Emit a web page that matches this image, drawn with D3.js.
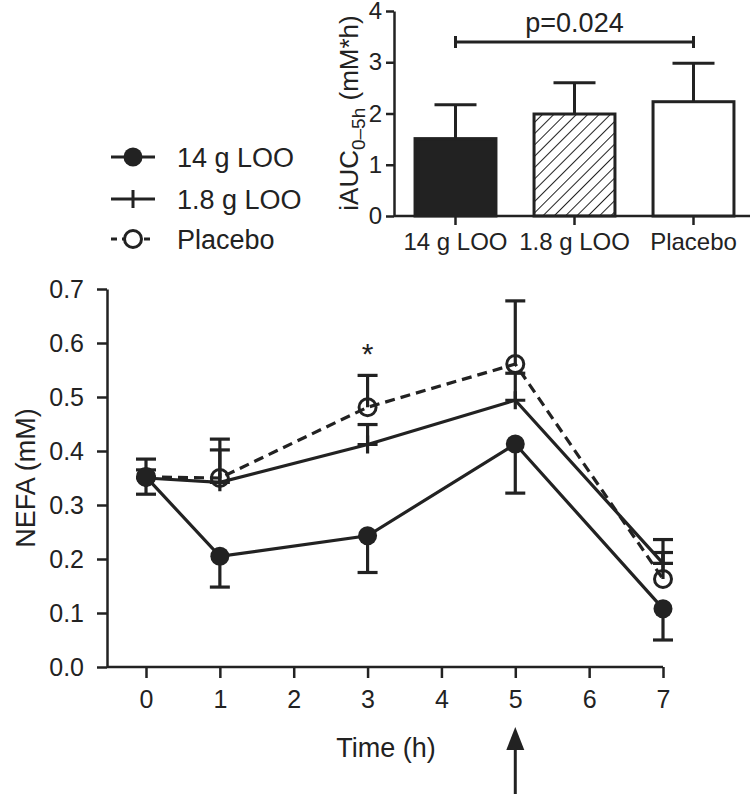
<!DOCTYPE html>
<html>
<head>
<meta charset="utf-8">
<script src="https://cdn.jsdelivr.net/npm/d3@7"></script>
<style>
  body { margin: 0; background: #fff; }
  text { font-family: "Liberation Sans", Arial, sans-serif; fill: #222; }
</style>
</head>
<body>
<div id="chart"></div>
<script>
// line chart data
var times = [0, 1, 3, 5, 7]
var loo14 = [0.352, 0.205, 0.243, 0.413, 0.108]
var loo14Err = [0.032, 0.057, 0.068, 0.091, 0.058]
var loo18 = [0.350, 0.342, 0.412, 0.494, 0.192]
var loo18Err = [0.015, 0.060, 0.037, 0.050, 0.020]
var placebo = [0.352, 0.350, 0.481, 0.561, 0.163]
var placeboErr = [0.033, 0.072, 0.059, 0.117, 0.073]
var xTicks = [0, 1, 2, 3, 4, 5, 6, 7]
var yTicks = [0, 0.1, 0.2, 0.3, 0.4, 0.5, 0.6, 0.7]

// bar chart data
var barGroups = ["14 g LOO", "1.8 g LOO", "Placebo"]
var barValues = [1.51, 1.99, 2.23]
var barErr = [0.66, 0.61, 0.75]
var barTicks = [0, 1, 2, 3, 4]

var w = 754, h = 794
var ink = "#222"

var svg = d3.select("#chart").append("svg")
    .attr("width", w)
    .attr("height", h)

var defs = svg.append("defs")
var hatch = defs.append("pattern")
    .attr("id", "hatch")
    .attr("patternUnits", "userSpaceOnUse")
    .attr("width", 8)
    .attr("height", 8)
    .attr("patternTransform", "rotate(45)")
hatch.append("line")
    .attr("x1", 0).attr("y1", 0).attr("x2", 0).attr("y2", 8)
    .attr("stroke", ink).attr("stroke-width", 2)

// ---------- main line chart ----------
var xScale = d3.scaleLinear().domain([0, 7]).range([146, 663])
var yScale = d3.scaleLinear().domain([0, 0.7]).range([667, 289])
var axisX0 = 107

var yAxis = d3.axisLeft(yScale)
    .tickValues(yTicks)
    .tickFormat(d3.format(".1f"))
    .tickSize(10)
    .tickSizeOuter(0)
    .tickPadding(13)
svg.append("g")
    .attr("class", "yAxis")
    .attr("transform", `translate (${axisX0}, 0)`)
    .call(yAxis)

var xAxis = d3.axisBottom(xScale)
    .tickValues(xTicks)
    .tickFormat(d3.format("d"))
    .tickSize(11)
    .tickSizeOuter(0)
    .tickPadding(12)
var gx = svg.append("g")
    .attr("class", "xAxis")
    .attr("transform", `translate (0, ${yScale(0)})`)
    .call(xAxis)
gx.select(".domain").remove()
gx.append("line")
    .attr("x1", axisX0).attr("x2", xScale(7))
    .attr("y1", 0).attr("y2", 0)
    .attr("stroke", ink).attr("stroke-width", 2.5)

svg.selectAll(".yAxis path, .yAxis line, .xAxis line")
    .attr("stroke", ink).attr("stroke-width", 2.5)
svg.selectAll(".yAxis text, .xAxis text")
    .style("font-size", "25px").attr("fill", ink)

svg.append("text")
    .attr("transform", "rotate(-90)")
    .attr("x", -478)
    .attr("y", 35)
    .style("text-anchor", "middle")
    .style("font-size", "27px")
    .text("NEFA (mM)")

svg.append("text")
    .attr("x", 386)
    .attr("y", 757)
    .style("text-anchor", "middle")
    .style("font-size", "27px")
    .text("Time (h)")

// arrow at the 5 h meal
var ax = xScale(5)
svg.append("line")
    .attr("x1", ax).attr("x2", ax)
    .attr("y1", 745).attr("y2", 794)
    .attr("stroke", ink).attr("stroke-width", 3)
svg.append("path")
    .attr("d", `M${ax},727 L${ax - 9},750 L${ax + 9},750 Z`)
    .attr("fill", ink)

var line = d3.line()
    .x((d, i) => xScale(times[i]))
    .y(d => yScale(d))

function errorBars(vals, errs, dir) {
  var g = svg.append("g")
  vals.forEach(function(v, i) {
    var cx = xScale(times[i])
    var end = v + dir * errs[i]
    g.append("line")
        .attr("x1", cx).attr("x2", cx)
        .attr("y1", yScale(v)).attr("y2", yScale(end))
        .attr("stroke", ink).attr("stroke-width", 3.2)
    g.append("line")
        .attr("x1", cx - 10).attr("x2", cx + 10)
        .attr("y1", yScale(end)).attr("y2", yScale(end))
        .attr("stroke", ink).attr("stroke-width", 3.2)
  })
}

// placebo
errorBars(placebo, placeboErr, 1)
svg.append("path")
    .datum(placebo)
    .attr("d", line)
    .attr("fill", "none")
    .attr("stroke", ink)
    .attr("stroke-width", 3.2)
    .attr("stroke-dasharray", "10,6")
svg.append("g").selectAll("circle")
    .data(placebo)
  .enter().append("circle")
    .attr("cx", (d, i) => xScale(times[i]))
    .attr("cy", d => yScale(d))
    .attr("r", 8.5)
    .attr("fill", "none")
    .attr("stroke", ink)
    .attr("stroke-width", 3)

// 1.8 g LOO
errorBars(loo18, loo18Err, 1)
svg.append("path")
    .datum(loo18)
    .attr("d", line)
    .attr("fill", "none")
    .attr("stroke", ink)
    .attr("stroke-width", 3.2)
svg.append("g").selectAll("path")
    .data(loo18)
  .enter().append("path")
    .attr("d", (d, i) => {
      var cx = xScale(times[i]), cy = yScale(d)
      return `M${cx - 10},${cy}H${cx + 10}M${cx},${cy - 9}V${cy + 9}`
    })
    .attr("stroke", ink)
    .attr("stroke-width", 3.2)

// 14 g LOO
errorBars(loo14, loo14Err, -1)
svg.append("path")
    .datum(loo14)
    .attr("d", line)
    .attr("fill", "none")
    .attr("stroke", ink)
    .attr("stroke-width", 3.2)
svg.append("g").selectAll("circle")
    .data(loo14)
  .enter().append("circle")
    .attr("cx", (d, i) => xScale(times[i]))
    .attr("cy", d => yScale(d))
    .attr("r", 9.5)
    .attr("fill", ink)

svg.append("text")
    .attr("x", xScale(3))
    .attr("y", 364)
    .style("text-anchor", "middle")
    .style("font-size", "30px")
    .text("*")

// legend
var legendY = [157, 199, 239]
var lg = svg.append("g")
lg.append("line").attr("x1", 111).attr("x2", 155).attr("y1", legendY[0]).attr("y2", legendY[0])
    .attr("stroke", ink).attr("stroke-width", 3)
lg.append("circle").attr("cx", 133).attr("cy", legendY[0]).attr("r", 9.5).attr("fill", ink)
lg.append("line").attr("x1", 111).attr("x2", 155).attr("y1", legendY[1]).attr("y2", legendY[1])
    .attr("stroke", ink).attr("stroke-width", 3)
lg.append("line").attr("x1", 133).attr("x2", 133).attr("y1", legendY[1] - 9).attr("y2", legendY[1] + 9)
    .attr("stroke", ink).attr("stroke-width", 3)
lg.append("line").attr("x1", 111).attr("x2", 155).attr("y1", legendY[2]).attr("y2", legendY[2])
    .attr("stroke", ink).attr("stroke-width", 3).attr("stroke-dasharray", "6,5")
lg.append("circle").attr("cx", 133).attr("cy", legendY[2]).attr("r", 8.5)
    .attr("fill", "#fff").attr("stroke", ink).attr("stroke-width", 3)
lg.selectAll("text")
    .data(barGroups)
  .enter().append("text")
    .attr("x", 177)
    .attr("y", (d, i) => legendY[i])
    .attr("dy", "0.36em")
    .style("font-size", "27px")
    .text(d => d)

// ---------- bar chart (inset) ----------
var bx = d3.scaleBand()
    .domain(barGroups)
    .range([396, 753])
    .paddingInner(0.32)
    .paddingOuter(0.16)
var by = d3.scaleLinear().domain([0, 4]).range([216, 11])
var bAxisX0 = 394

var byAxis = d3.axisLeft(by)
    .tickValues(barTicks)
    .tickFormat(d3.format("d"))
    .tickSize(8)
    .tickSizeOuter(0)
    .tickPadding(4)
svg.append("g")
    .attr("class", "byAxis")
    .attr("transform", `translate (${bAxisX0}, 0)`)
    .call(byAxis)

var bxAxis = d3.axisBottom(bx)
    .tickSize(9)
    .tickSizeOuter(0)
    .tickPadding(8)
var gbx = svg.append("g")
    .attr("class", "bxAxis")
    .attr("transform", `translate (0, ${by(0)})`)
    .call(bxAxis)
gbx.select(".domain").remove()
gbx.append("line")
    .attr("x1", bAxisX0).attr("x2", 750)
    .attr("y1", 0).attr("y2", 0)
    .attr("stroke", ink).attr("stroke-width", 2.5)

svg.selectAll(".byAxis path, .byAxis line, .bxAxis line")
    .attr("stroke", ink).attr("stroke-width", 2.5)
svg.selectAll(".byAxis text")
    .style("font-size", "24px").attr("fill", ink)
svg.selectAll(".bxAxis text")
    .style("font-size", "24px").attr("fill", ink)

var bfills = [ink, "url(#hatch)", "#fff"]
var bars = svg.append("g")
barGroups.forEach(function(k, i) {
  var cx = bx(k) + bx.bandwidth() / 2
  var top = by(barValues[i] + barErr[i])
  bars.append("line")
      .attr("x1", cx).attr("x2", cx)
      .attr("y1", by(barValues[i])).attr("y2", top)
      .attr("stroke", ink).attr("stroke-width", 3)
  bars.append("line")
      .attr("x1", cx - 21).attr("x2", cx + 21)
      .attr("y1", top).attr("y2", top)
      .attr("stroke", ink).attr("stroke-width", 3)
  bars.append("rect")
      .attr("x", bx(k))
      .attr("y", by(barValues[i]))
      .attr("width", bx.bandwidth())
      .attr("height", by(0) - by(barValues[i]))
      .attr("fill", bfills[i])
      .attr("stroke", ink)
      .attr("stroke-width", 3)
})

var yl = svg.append("text")
    .attr("transform", "rotate(-90)")
    .attr("x", -113)
    .attr("y", 358)
    .style("text-anchor", "middle")
    .style("font-size", "26px")
yl.append("tspan").text("iAUC")
yl.append("tspan").attr("dy", 7).style("font-size", "19px").text("0\u20135h")
yl.append("tspan").attr("dy", -7).text(" (mM*h)")

// significance bracket
var p1 = bx(barGroups[0]) + bx.bandwidth() / 2
var p2 = bx(barGroups[2]) + bx.bandwidth() / 2
svg.append("path")
    .attr("d", `M${p1},36V48M${p1},42H${p2}M${p2},36V48`)
    .attr("fill", "none")
    .attr("stroke", ink)
    .attr("stroke-width", 3)
svg.append("text")
    .attr("x", (p1 + p2) / 2)
    .attr("y", 32)
    .style("text-anchor", "middle")
    .style("font-size", "27px")
    .text("p=0.024")
</script>
</body>
</html>
